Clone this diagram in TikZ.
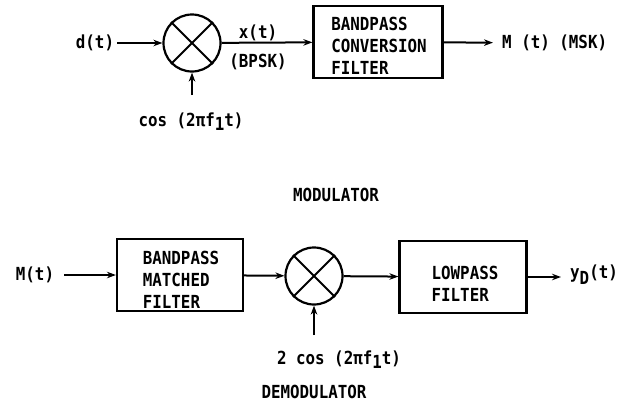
\documentclass[tikz,border=0pt]{standalone}
\usepackage{fontspec}
\setmainfont{DejaVu Sans Mono}[FakeStretch=0.88]
\usetikzlibrary{arrows.meta}
\begin{document}
\begin{tikzpicture}[x=1pt,y=-1pt,
  lbl/.style={font=\fontsize{18}{22}\selectfont\bfseries, inner sep=0pt},
  boxtxt/.style={font=\fontsize{18}{22}\selectfont\bfseries, inner sep=0pt, align=left},
  blk/.style={draw, line width=2.2pt, inner sep=0pt},
  mix/.style={draw, circle, line width=2.2pt, minimum size=57pt, inner sep=0pt},
  sig/.style={line width=2pt, -{Stealth[length=9pt,width=6.5pt]}}]
\useasboundingbox (0,0) rectangle (629,402);
% ---------- modulator ----------
\node[lbl] (d) at (95,43) {d(t)};
\node[mix] (m1) at (192,43) {};
\draw[line width=2pt] (m1.north west) -- (m1.south east) (m1.north east) -- (m1.south west);
\node[blk, minimum width=129pt, minimum height=72pt] (f1) at (378,42) {};
\node[boxtxt] (f1t) at (379,46) {BANDPASS\\CONVERSION\\FILTER};
\node[lbl, anchor=west] (mout) at (502,43) {M (t) (MSK)};
\node[lbl] (xt) at (258,33) {x(t)};
\node[lbl] (bpsk) at (258,62) {(BPSK)};
\node[lbl] (c1) at (191,122) {cos (2πf\raisebox{-4pt}{1}t)};
\coordinate (c1a) at (192,95);
\draw[sig, shorten <=3pt] (d) -- (m1);
\draw[sig] (m1) -- (f1);
\draw[sig, shorten >=9pt] (f1) -- (mout);
\draw[sig] (c1a) -- (m1.south);
\node[lbl] (modl) at (336,195) {MODULATOR};
% ---------- demodulator ----------
\node[lbl] (min) at (35,275) {M(t)};
\node[blk, minimum width=126pt, minimum height=72pt] (f2) at (180,275) {};
\node[boxtxt] (f2t) at (181,280) {BANDPASS\\MATCHED\\FILTER};
\node[mix] (m2) at (314,276) {};
\draw[line width=2pt] (m2.north west) -- (m2.south east) (m2.north east) -- (m2.south west);
\node[blk, minimum width=127pt, minimum height=72pt] (f3) at (463,277) {};
\node[boxtxt] (f3t) at (465,284) {LOWPASS\\FILTER};
\node[lbl, anchor=west] (yd) at (570,275) {y\raisebox{-6pt}{D}(t)};
\node[lbl] (c2) at (339,360) {2 cos (2πf\raisebox{-4pt}{1}t)};
\coordinate (c2a) at (314,335);
\draw[sig, shorten <=10pt] (min) -- (f2);
\draw[sig] (f2) -- (m2);
\draw[sig] (m2) -- (f3);
\draw[sig, shorten >=9pt] (f3) -- (yd.west |- f3);
\draw[sig] (c2a) -- (m2.south);
\node[lbl] (demodl) at (314,392) {DEMODULATOR};
\end{tikzpicture}
\end{document}
